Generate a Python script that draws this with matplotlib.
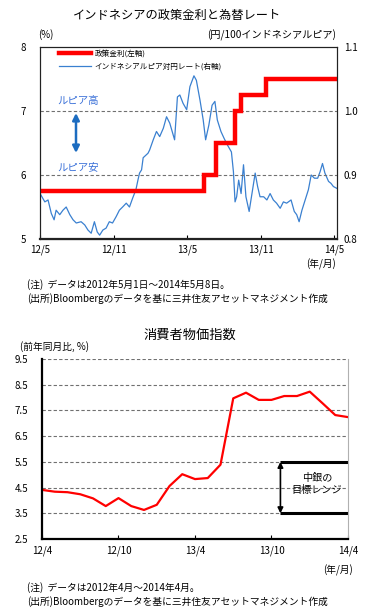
from __future__ import annotations

import datetime as dt

import matplotlib

matplotlib.use("Agg")
import matplotlib.pyplot as plt

plt.rcParams["font.family"] = ["Noto Sans CJK JP", "DejaVu Sans"]

W, H = 369, 615

# --- top chart: policy rate (left) and IDR/JPY (right) ---
rate_dates = ["2012-05-01", "2013-06-13", "2013-07-11", "2013-08-29",
              "2013-09-12", "2013-11-12", "2014-05-08"]
rate_values = [5.75, 6.0, 6.5, 7.0, 7.25, 7.5, 7.5]

fx_dates = [
    "2012-05-03", "2012-05-13", "2012-05-21", "2012-05-29", "2012-06-05",
    "2012-06-10", "2012-06-19", "2012-06-27", "2012-07-05", "2012-07-14",
    "2012-07-22", "2012-07-30", "2012-08-11", "2012-08-20", "2012-08-28",
    "2012-09-05", "2012-09-13", "2012-09-20", "2012-09-26", "2012-10-04",
    "2012-10-12", "2012-10-20", "2012-10-28", "2012-11-06", "2012-11-14",
    "2012-11-22", "2012-12-01", "2012-12-09", "2012-12-17", "2012-12-25",
    "2012-12-30", "2013-01-03", "2013-01-08", "2013-01-12", "2013-01-24",
    "2013-01-28", "2013-02-06", "2013-02-14", "2013-02-22", "2013-03-03",
    "2013-03-11", "2013-03-19", "2013-03-31", "2013-04-07", "2013-04-13",
    "2013-04-21", "2013-04-30", "2013-05-08", "2013-05-18", "2013-05-24",
    "2013-06-02", "2013-06-10", "2013-06-16", "2013-06-24", "2013-07-02",
    "2013-07-09", "2013-07-15", "2013-07-24", "2013-08-01", "2013-08-09",
    "2013-08-19", "2013-08-24", "2013-08-28", "2013-09-01", "2013-09-06",
    "2013-09-12", "2013-09-18", "2013-09-24", "2013-10-02", "2013-10-09",
    "2013-10-17", "2013-10-23", "2013-10-29", "2013-11-07", "2013-11-15",
    "2013-11-23", "2013-12-01", "2013-12-09", "2013-12-18", "2013-12-26",
    "2014-01-03", "2014-01-14", "2014-01-22", "2014-01-28", "2014-02-03",
    "2014-02-10", "2014-02-18", "2014-02-26", "2014-03-05", "2014-03-13",
    "2014-03-21", "2014-03-27", "2014-04-02", "2014-04-08", "2014-04-17",
    "2014-04-23", "2014-04-29", "2014-05-08",
]
fx_values = [
    0.869, 0.858, 0.861, 0.840, 0.830, 0.845, 0.838, 0.845, 0.850, 0.838,
    0.830, 0.825, 0.827, 0.822, 0.814, 0.809, 0.827, 0.811, 0.806, 0.814,
    0.817, 0.827, 0.825, 0.835, 0.845, 0.850, 0.856, 0.850, 0.864, 0.877,
    0.892, 0.903, 0.908, 0.927, 0.934, 0.939, 0.955, 0.968, 0.960, 0.973,
    0.991, 0.981, 0.955, 1.022, 1.025, 1.012, 1.002, 1.038, 1.055, 1.048,
    1.017, 0.986, 0.955, 0.978, 1.009, 1.015, 0.986, 0.968, 0.957, 0.947,
    0.936, 0.905, 0.858, 0.866, 0.892, 0.871, 0.916, 0.866, 0.843, 0.871,
    0.903, 0.882, 0.866, 0.866, 0.861, 0.871, 0.861, 0.856, 0.848, 0.858,
    0.856, 0.861, 0.843, 0.838, 0.827, 0.845, 0.861, 0.877, 0.900, 0.895,
    0.895, 0.905, 0.918, 0.903, 0.890, 0.887, 0.882, 0.879,
]
top_ticks = ["2012-05-01", "2012-11-01", "2013-05-01", "2013-11-01", "2014-05-01"]
top_tick_labels = ["12/5", "12/11", "13/5", "13/11", "14/5"]

# --- bottom chart: CPI yoy, monthly 2012/4 - 2014/4 ---
cpi_values = [
    4.41, 4.34, 4.32, 4.24, 4.08, 3.78, 4.09, 3.78, 3.63, 3.83,
    4.56, 5.02, 4.83, 4.87, 5.39, 7.97, 8.19, 7.91, 7.91, 8.06,
    8.06, 8.23, 7.78, 7.32, 7.24,
]
cpi_tick_labels = ["12/4", "12/10", "13/4", "13/10", "14/4"]
target_low, target_high = 3.5, 5.5
target_start = 18.7

BLUE = "#3a80d0"
RED = "#ff0000"


def to_date(s: str) -> dt.date:
    return dt.date.fromisoformat(s)


def px(x: float, y: float) -> tuple[float, float]:
    return x / W, 1 - y / H


def axes_rect(left: float, top: float, right: float, bottom: float) -> list[float]:
    return [left / W, 1 - bottom / H, (right - left) / W, (bottom - top) / H]


fig = plt.figure(figsize=(W / 100, H / 100), dpi=100)
fig.patch.set_facecolor("white")

# ================= top chart =================
ax1 = fig.add_axes(axes_rect(40, 47, 337, 239))
ax2 = ax1.twinx()
ax1.set_zorder(ax2.get_zorder() + 1)
ax1.patch.set_visible(False)

ax2.plot([to_date(d) for d in fx_dates], fx_values, color=BLUE, lw=0.9)
ax2.set_ylim(0.8, 1.1)
ax2.set_yticks([0.8, 0.9, 1.0, 1.1])
ax2.set_yticklabels(["0.8", "0.9", "1.0", "1.1"])

ax1.plot([to_date(d) for d in rate_dates], rate_values, color=RED, lw=3.2,
         drawstyle="steps-post", solid_joinstyle="miter")
ax1.set_ylim(5, 8)
ax1.set_yticks([5, 6, 7, 8])
for v in (6, 7):
    ax1.axhline(v, color="#707070", lw=0.8, ls=(0, (3, 2)), zorder=0)

ax1.set_xlim(to_date("2012-05-01"), to_date("2014-05-08"))
ax1.set_xticks([to_date(d) for d in top_ticks])
ax1.set_xticklabels(top_tick_labels)

for ax in (ax1, ax2):
    ax.tick_params(labelsize=7, length=3, direction="in", width=0.8, pad=4)
    for sp in ax.spines.values():
        sp.set_color("#222222")
        sp.set_linewidth(0.8)
ax1.spines["bottom"].set_linewidth(1.6)
ax1.tick_params(axis="y", pad=10, length=0)
ax2.tick_params(axis="y", pad=5, length=0)

leg_handles = [
    plt.Line2D([], [], color=RED, lw=3.2),
    plt.Line2D([], [], color=BLUE, lw=0.9),
]
ax1.legend(leg_handles, ["政策金利(左軸)", "インドネシアルピア対円レート(右軸)"],
           loc="upper left", bbox_to_anchor=(0.04, 1.02), frameon=False,
           fontsize=5.5, handlelength=4.2, labelspacing=0.6, handletextpad=0.5)

fig.text(*px(57, 101), "ルピア高", color="#3a70d8", fontsize=7.5, va="center")
fig.text(*px(57, 167), "ルピア安", color="#3a70d8", fontsize=7.5, va="center")
ax1.annotate("", xy=px(76, 113), xytext=px(76, 153), xycoords="figure fraction",
             textcoords="figure fraction",
             arrowprops=dict(arrowstyle="<|-|>", color="#1c6cc0", lw=1.8,
                             mutation_scale=10, shrinkA=0, shrinkB=0))

fig.text(*px(177, 15), "インドネシアの政策金利と為替レート", fontsize=8.8,
         ha="center", va="center")
fig.text(*px(38, 35), "(%)", fontsize=7, ha="left", va="center")
fig.text(*px(336, 35), "(円/100インドネシアルピア)", fontsize=7.3, ha="right", va="center")
fig.text(*px(336, 264), "(年/月)", fontsize=7, ha="right", va="center")
fig.text(*px(27, 285), "(注)  データは2012年5月1日～2014年5月8日。", fontsize=7,
         ha="left", va="center")
fig.text(*px(27, 299), "(出所)Bloombergのデータを基に三井住友アセットマネジメント作成",
         fontsize=7, ha="left", va="center")

# ================= bottom chart =================
ax3 = fig.add_axes(axes_rect(42, 359, 348, 539))
months = list(range(len(cpi_values)))
ax3.plot(months, cpi_values, color=RED, lw=1.6)
ax3.set_xlim(0, len(cpi_values) - 1)
ax3.set_ylim(2.5, 9.5)
yt = [2.5, 3.5, 4.5, 5.5, 6.5, 7.5, 8.5, 9.5]
ax3.set_yticks(yt)
ax3.set_yticklabels([f"{v:.1f}" for v in yt])
for v in yt[1:]:
    ax3.axhline(v, color="#707070", lw=0.8, ls=(0, (3, 2)), zorder=0)
ax3.set_xticks(months[::6])
ax3.set_xticklabels(cpi_tick_labels)
ax3.tick_params(labelsize=7, length=3, direction="in", width=0.8)
ax3.tick_params(axis="x", pad=5)
ax3.tick_params(axis="y", length=0, pad=10)
ax3.spines["left"].set_linewidth(1.6)
ax3.spines["bottom"].set_linewidth(1.6)
ax3.spines["top"].set_visible(False)
ax3.spines["right"].set_color("#b0b0b0")
ax3.spines["right"].set_linewidth(0.8)

x_end = len(cpi_values) - 1
ax3.plot([target_start, x_end], [target_high, target_high], color="black", lw=2.2,
         solid_capstyle="butt")
ax3.plot([target_start, x_end], [target_low, target_low], color="black", lw=2.2,
         solid_capstyle="butt")
ax3.annotate("", xy=(target_start, target_high), xytext=(target_start, target_low),
             arrowprops=dict(arrowstyle="<|-|>", color="black", lw=1.2,
                             mutation_scale=8, shrinkA=0, shrinkB=0))
ax3.text((target_start + x_end) / 2 + 0.2, (target_low + target_high) / 2 + 0.15,
         "中銀の\n目標レンジ", fontsize=7.3, ha="center", va="center", linespacing=1.3)

fig.text(*px(190, 335), "消費者物価指数", fontsize=9.5, ha="center", va="center")
fig.text(*px(20, 347), "(前年同月比, %)", fontsize=7, ha="left", va="center")
fig.text(*px(353, 570), "(年/月)", fontsize=7, ha="right", va="center")
fig.text(*px(27, 588), "(注)  データは2012年4月～2014年4月。", fontsize=7,
         ha="left", va="center")
fig.text(*px(27, 602), "(出所)Bloombergのデータを基に三井住友アセットマネジメント作成",
         fontsize=7, ha="left", va="center")

fig.savefig("out.png", dpi=100)
